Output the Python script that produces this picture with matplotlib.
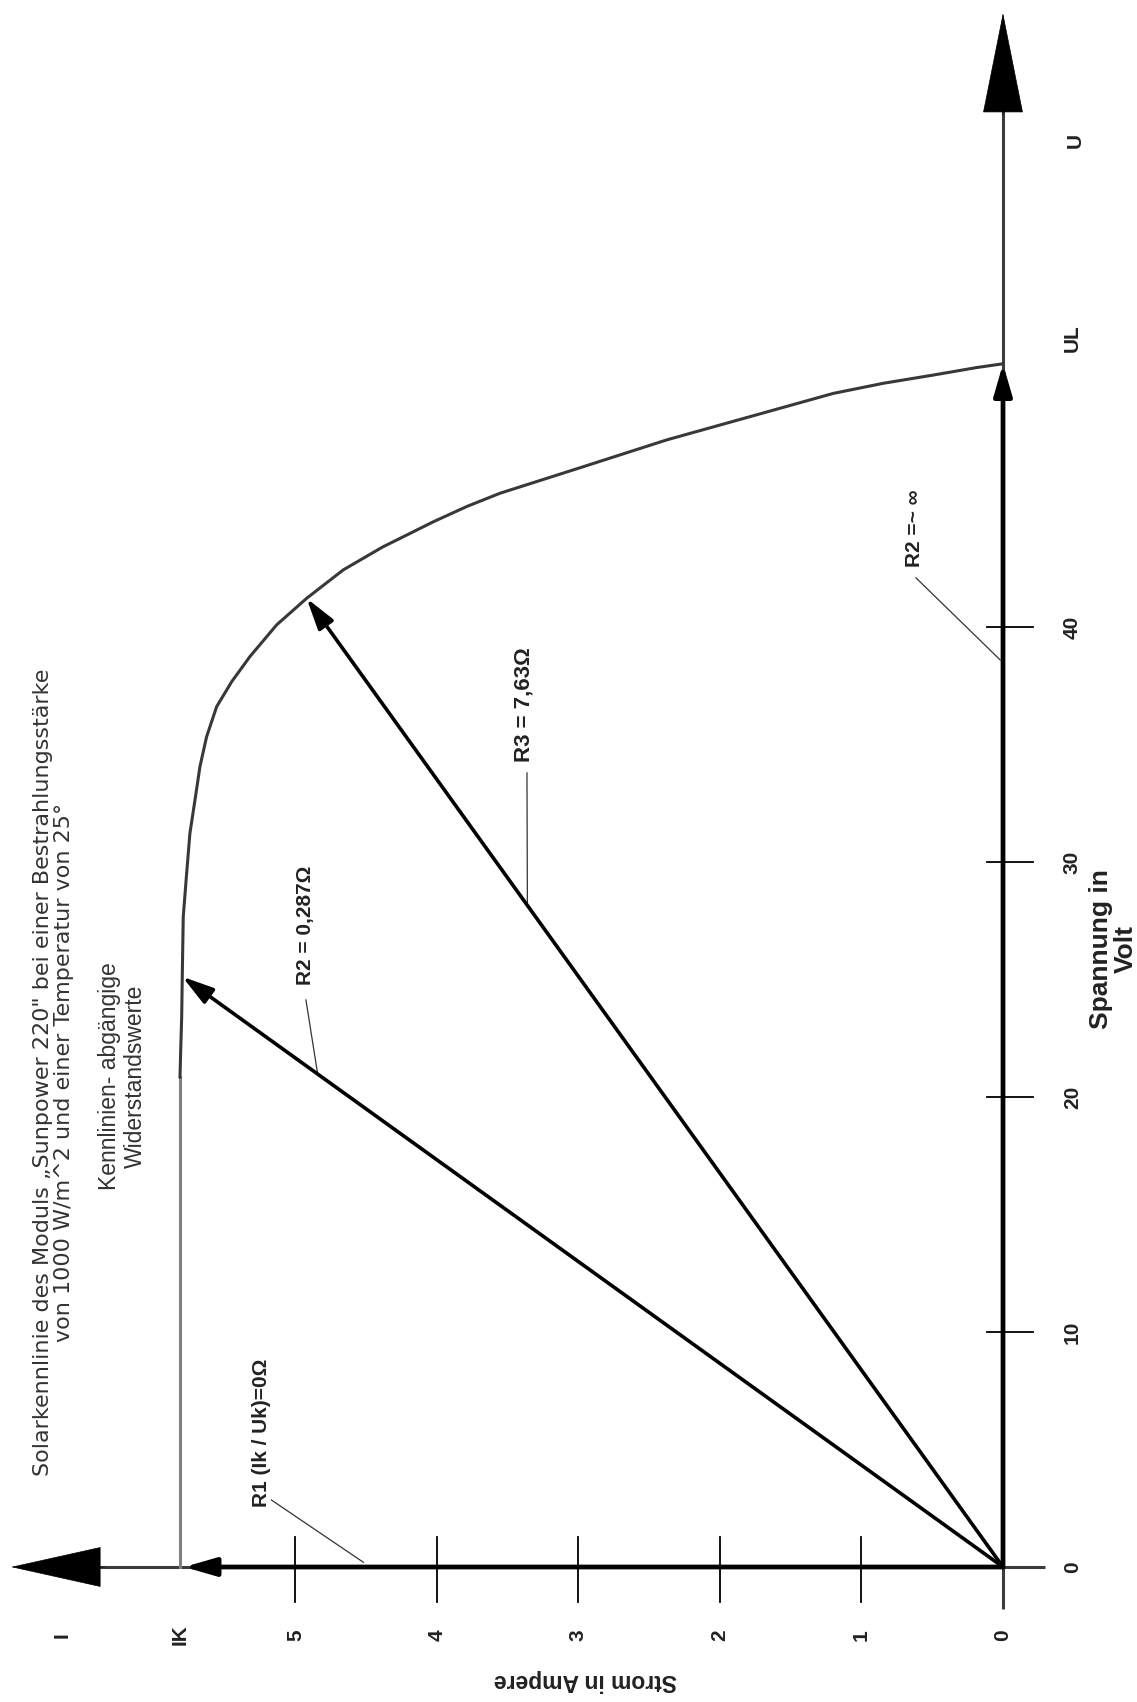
#Kennlinie Solarmodul mit Widerstandsgeraden (Diagramm um 90 Grad gedreht)

import numpy as np
import matplotlib.pyplot as plt

plt.rcParams['font.family'] = ['Liberation Sans', 'DejaVu Sans']

#Werte der Kennlinie: Strom in A, Spannung in V
strom = [5.816, 5.816, 5.811, 5.804, 5.800, 5.793, 5.769, 5.746, 5.710, 5.675, 5.628, 5.557, 5.451,
         5.322, 5.133, 4.921, 4.662, 4.385, 4.021, 3.788, 3.555, 2.966, 2.377, 1.788, 1.199, 0.846,
         0.493, 0.186, 0.0]
spannung = [0.0, 20.85, 22.0, 23.42, 25.12, 27.67, 29.52, 31.22, 32.64, 34.06, 35.33, 36.61, 37.67,
            38.74, 40.09, 41.22, 42.43, 43.40, 44.49, 45.13, 45.69, 46.82, 47.96, 48.95, 49.94, 50.37,
            50.72, 51.04, 51.2]
IK = 5.816
UL = 51.2

#Achsenteilung
spannung_ticks = [0, 10, 20, 30, 40]
strom_ticks = [0, 1, 2, 3, 4, 5]

#Endpunkte der Widerstandsgeraden auf der Kennlinie
r2_punkt = (strom[4], spannung[4])
r3_punkt = (strom[15], spannung[15])

fig = plt.figure(figsize=(11.37, 17.02), dpi=100)
ax = fig.add_axes([0, 0, 1, 1])
ax.set_xlim(7.088, -0.947)
ax.set_ylim(-5.745, 66.68)
ax.axis("off")

achse = "#3c3c3c"
schrift = "#222222"

#Achsen mit Pfeilspitzen
ax.plot([0, 0], [-1.79, 62.5], color=achse, lw=2.2, solid_capstyle="butt")
ax.annotate("", xy=(0, 66.13), xytext=(0, 61.8),
            arrowprops=dict(arrowstyle="-|>,head_length=7.0,head_width=1.4", mutation_scale=10,
                            color="black", lw=0.5, shrinkA=0, shrinkB=0))
ax.plot([-0.30, 6.5], [0, 0], color=achse, lw=2.2, solid_capstyle="butt")
ax.annotate("", xy=(7.01, 0), xytext=(6.35, 0),
            arrowprops=dict(arrowstyle="-|>,head_length=6.3,head_width=1.4", mutation_scale=10,
                            color="black", lw=0.5, shrinkA=0, shrinkB=0))

#Teilstriche und Beschriftung
for u in spannung_ticks[1:]:
    ax.plot([0.113, -0.212], [u, u], color="black", lw=1.3)
for i in strom_ticks[1:]:
    ax.plot([i, i], [1.28, -1.49], color="black", lw=1.3)

for u in spannung_ticks:
    ax.text(-0.49, u, str(u), rotation=90, ha="center", va="center", fontsize=15, fontweight="bold", color=schrift)
for i in strom_ticks:
    ax.text(i, -2.89, str(i), rotation=90, ha="center", va="center", fontsize=15, fontweight="bold", color=schrift)
ax.text(-0.49, UL + 1.1, "UL", rotation=90, ha="center", va="center", fontsize=15, fontweight="bold", color=schrift)
ax.text(-0.51, 60.7, "U", rotation=90, ha="center", va="center", fontsize=15, fontweight="bold", color=schrift)
ax.text(IK, -2.89, "IK", rotation=90, ha="center", va="center", fontsize=15, fontweight="bold", color=schrift)
ax.text(6.65, -2.89, "I", rotation=90, ha="center", va="center", fontsize=15, fontweight="bold", color=schrift)

ax.text(2.95, -4.85, "Strom in Ampere", rotation=180, ha="center", va="center", fontsize=16.5,
        fontweight="bold", color=schrift)
ax.text(-0.78, 26.3, "Spannung in\nVolt", rotation=90, ha="center", va="center", ma="center",
        fontsize=19, fontweight="bold", color=schrift, linespacing=1.05)

ax.text(6.71, 21.06, "Solarkennlinie des Moduls \u201eSunpower 220\" bei einer Bestrahlungsst\u00e4rke\nvon 1000 W/m^2 und einer Temperatur von 25\u00b0",
        rotation=90, ha="center", va="center", ma="center", fontsize=16, color="#333333",
        linespacing=1.1, family="DejaVu Sans")
ax.text(6.22, 20.9, "Kennlinien- abg\u00e4ngige\nWiderstandswerte", rotation=90, ha="center", va="center",
        ma="center", fontsize=16.5, color="#333333", linespacing=1.15)

#Kennlinie
ax.plot(strom[:2], spannung[:2], color="#808080", lw=2.2)
ax.plot(strom[1:], spannung[1:], color="#383838", lw=2.2, solid_joinstyle="round")

#Widerstandsgeraden als Pfeile vom Ursprung
pfeil = dict(arrowstyle="-|>,head_length=1.9,head_width=0.55", mutation_scale=10,
             color="black", lw=2.6, shrinkA=0, shrinkB=0)
ax.annotate("", xy=r2_punkt, xytext=(0, 0), arrowprops=pfeil)
ax.annotate("", xy=r3_punkt, xytext=(0, 0), arrowprops=pfeil)
pfeil_dick = dict(pfeil, lw=3.4)
ax.annotate("", xy=(IK - 0.03, 0), xytext=(0, 0), arrowprops=pfeil_dick)
ax.annotate("", xy=(0, UL), xytext=(0, 0), arrowprops=pfeil_dick)

#Beschriftung der Widerstaende mit Hinweislinien
def hinweis(text, pos, start, ende, groesse=15):
    ax.text(pos[0], pos[1], text, rotation=90, ha="center", va="center", fontsize=groesse,
            fontweight="bold", color=schrift)
    ax.plot([start[0], ende[0]], [start[1], ende[1]], color="#333333", lw=0.9)

t2 = 0.835
t3 = 0.683
hinweis("R1 (Ik / Uk)=0\u03a9", (5.237, 5.7), (5.17, 2.85), (4.52, 0.2))
hinweis("R2 = 0,287\u03a9", (4.926, 27.3), (4.926, 24.13), (r2_punkt[0] * t2, r2_punkt[1] * t2))
hinweis("R3 = 7,63\u03a9", (3.385, 36.7), (3.364, 33.79), (r3_punkt[0] * t3, r3_punkt[1] * t3), 16)
hinweis("R2 =~ \u221e", (0.622, 44.2), (0.615, 42.09), (0.02, 38.6))

plt.savefig("out.png", dpi=100)
